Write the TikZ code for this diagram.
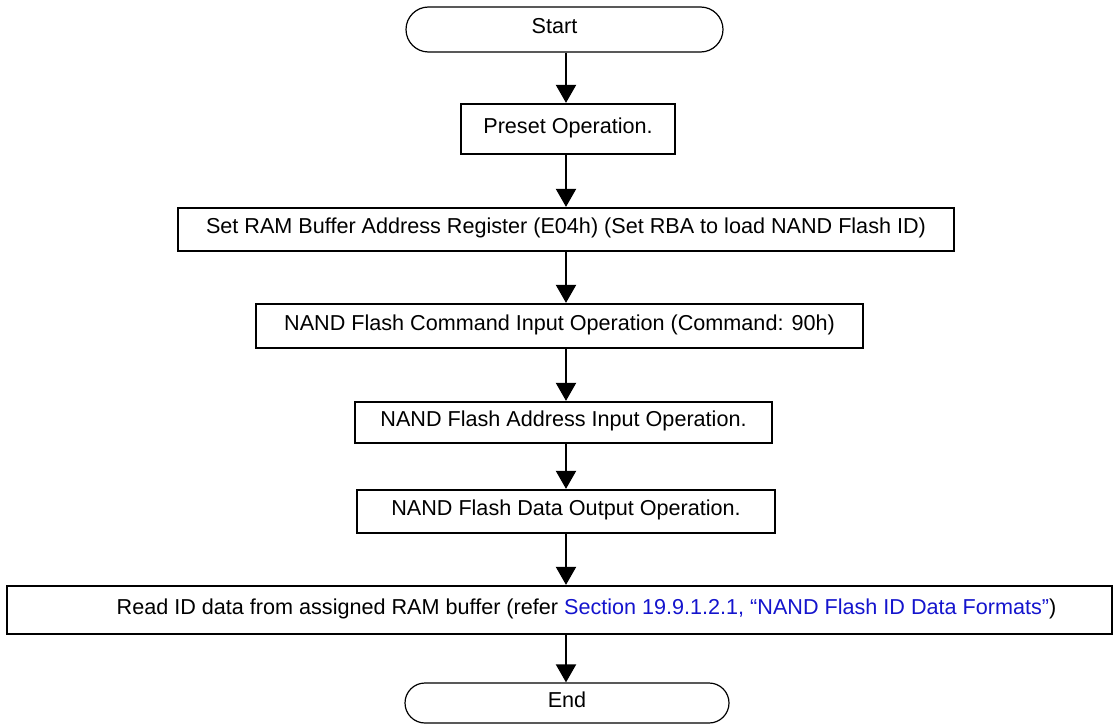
\documentclass[tikz,border=0pt]{standalone}
\usepackage{fontspec}
\setmainfont{Liberation Sans}
\usetikzlibrary{shapes.misc,arrows.meta}
\definecolor{linkblue}{RGB}{20,20,205}
\begin{document}
\begin{tikzpicture}[x=1pt,y=-1pt,
  every node/.style={font=\fontsize{21.6}{26}\selectfont, inner sep=0pt, text height=15pt, text depth=7pt},
  box/.style={draw, line width=2.2pt, rectangle},
  term/.style={draw, line width=1.2pt, rounded rectangle},
  arr/.style={line width=2pt, -{Triangle[width=20pt,length=18pt]}}]
\useasboundingbox (0,0) rectangle (1117,725);
\coordinate (ax) at (566,0);
\node[term, minimum width=317pt, minimum height=45pt, label={[xshift=-10pt]center:Start}] (start) at (564.5,29.5) {};
\node[box, minimum width=214pt, minimum height=50pt] (preset) at (568,129) {Preset Operation.};
\node[box, minimum width=776pt, minimum height=43pt] (setram) at (566,229.5) {Set RAM Buffer Address Register (E04h) (Set RBA to load NAND Flash ID)};
\node[box, minimum width=607pt, minimum height=44pt] (command) at (559.5,326) {NAND Flash Command Input Operation (Command: 90h)};
\node[box, minimum width=417pt, minimum height=41pt] (address) at (563.5,422.5) {NAND Flash Address Input Operation.};
\node[box, minimum width=418pt, minimum height=43pt] (data) at (566,511.5) {NAND Flash Data Output Operation.};
\node[box, minimum width=1105pt, minimum height=48pt, label={[xshift=27pt]center:Read ID data from assigned RAM buffer (refer \textcolor{linkblue}{Section 19.9.1.2.1, “NAND Flash ID Data Formats”})}] (read) at (559.5,610) {};
\node[term, minimum width=324pt, minimum height=40pt] (end) at (567,703) {End};
\draw[arr] (start.south -| ax) -- (preset.north -| ax);
\draw[arr] (preset.south -| ax) -- (setram.north -| ax);
\draw[arr] (setram.south -| ax) -- (command.north -| ax);
\draw[arr] (command.south -| ax) -- (address.north -| ax);
\draw[arr] (address.south -| ax) -- (data.north -| ax);
\draw[arr] (data.south -| ax) -- (read.north -| ax);
\draw[arr] (read.south -| ax) -- (end.north -| ax);
\end{tikzpicture}
\end{document}
